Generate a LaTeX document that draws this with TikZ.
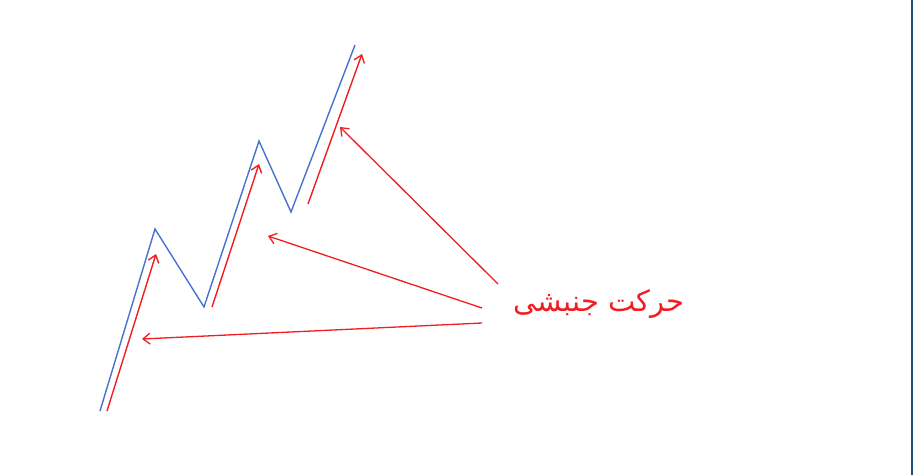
\documentclass[tikz,border=0pt]{standalone}
\usepackage{fontspec}
\usepackage{xcolor}
\usetikzlibrary{arrows.meta}
\newfontfamily\arabicfont[Script=Arabic]{DejaVu Sans}
\TeXXeTstate=1
\definecolor{zigblue}{RGB}{72,114,206}
\definecolor{arrowred}{RGB}{240,30,35}
\definecolor{edgeblue}{RGB}{31,78,121}

\begin{document}
\begin{tikzpicture}[x=1pt, y=-1pt,
  zigzag/.style={draw=zigblue, line width=1.4pt},
  movearrow/.style={draw=arrowred, line width=1.4pt, -{Straight Barb[length=7pt, width=11pt]}},
  pointer/.style={draw=arrowred, line width=1.3pt, -{Straight Barb[length=7pt, width=11pt]}}]

\useasboundingbox (0,0) rectangle (913,475);
\fill[white] (0,0) rectangle (913,475);
\fill[edgeblue] (910.5,0) rectangle (913,475);

\coordinate (w0) at (100,411);
\coordinate (w1) at (155,229);
\coordinate (w2) at (204,307);
\coordinate (w3) at (259,141);
\coordinate (w4) at (291,212);
\coordinate (w5) at (355,45);
\draw[zigzag] (w0) -- (w1) -- (w2) -- (w3) -- (w4) -- (w5);

\coordinate (a1s) at (107,411);
\coordinate (a1e) at (156,254);
\coordinate (a2s) at (212,307);
\coordinate (a2e) at (259,164);
\coordinate (a3s) at (308,204);
\coordinate (a3e) at (362,54);
\draw[movearrow] (a1s) -- (a1e);
\draw[movearrow] (a2s) -- (a2e);
\draw[movearrow] (a3s) -- (a3e);

\node(label) [text=arrowred, inner sep=0pt] at (599,304) {\fontsize{29}{34}\selectfont\arabicfont\beginR حرکت جنبشی\endR};

\coordinate (p1s) at (498,284);
\coordinate (p2s) at (482,308);
\coordinate (p3s) at (482,323);
\coordinate (p1e) at (340,127);
\coordinate (p2e) at (268,236);
\coordinate (p3e) at (142,339);
\draw[pointer] (p1s) -- (p1e);
\draw[pointer] (p2s) -- (p2e);
\draw[pointer] (p3s) -- (p3e);

\end{tikzpicture}
\end{document}
